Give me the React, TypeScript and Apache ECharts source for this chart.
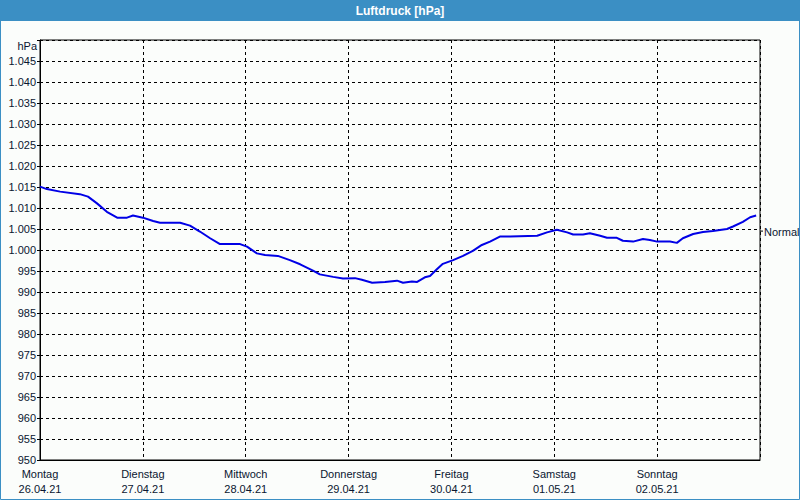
import React, { useEffect, useRef } from "react";
import * as echarts from "echarts";

const dayNames = ["Montag", "Dienstag", "Mittwoch", "Donnerstag", "Freitag", "Samstag", "Sonntag"];
const dayDates = ["26.04.21", "27.04.21", "28.04.21", "29.04.21", "30.04.21", "01.05.21", "02.05.21"];

// hours since Monday 00:00
const hours = [
  0, 1.6, 4.7, 9.3, 11.2, 13.3, 15.6, 18.0, 20.3, 21.7, 24.0, 26.4, 28.0, 32.7, 35.0, 37.3, 39.7,
  42.0, 46.7, 48.3, 50.6, 52.5, 55.5, 58.3, 60.7, 63.7, 65.3, 68.4, 70.7, 73.5, 75.1, 77.5, 80.5,
  83.3, 84.7, 86.8, 88.0, 89.8, 91.0, 92.6, 94.0, 96.4, 98.7, 101.0, 103.1, 105.0, 107.3, 109.7,
  116.0, 118.3, 120.6, 123.0, 124.4, 126.7, 128.3, 130.7, 132.3, 134.6, 136.0, 138.4, 140.7, 142.3,
  144.0, 147.0, 148.6, 150.0, 152.4, 154.7, 157.0, 160.3, 161.7, 164.0, 165.7, 167.1,
];
const pressure = [
  1015.1, 1014.5, 1013.9, 1013.3, 1012.7, 1011.1, 1009.1, 1007.7, 1007.7, 1008.2, 1007.7, 1006.9,
  1006.5, 1006.5, 1005.8, 1004.4, 1002.8, 1001.4, 1001.4, 1000.8, 999.2, 998.8, 998.6, 997.6, 996.6,
  995.1, 994.2, 993.6, 993.2, 993.3, 992.9, 992.2, 992.4, 992.7, 992.2, 992.5, 992.4, 993.5, 993.8,
  995.4, 996.7, 997.6, 998.6, 999.8, 1001.2, 1002.0, 1003.2, 1003.2, 1003.4, 1004.2, 1004.8, 1004.2,
  1003.7, 1003.7, 1004.0, 1003.4, 1002.9, 1002.9, 1002.2, 1002.0, 1002.6, 1002.4, 1002.0, 1002.0,
  1001.7, 1002.8, 1003.8, 1004.3, 1004.5, 1005.0, 1005.6, 1006.7, 1007.8, 1008.2,
];
const normalPressure = 1004.5;
const normalLabel = "Normal";
const unitLabel = "hPa";
const titleText = "Luftdruck [hPa]";
const yMin = 950;
const yMax = 1050;
const yStep = 5;
const hoursPerDay = 24;

const fmtY = (v: number) => {
  if (v >= yMax) return "";
  if (v >= 1000) return `${Math.floor(v / 1000)}.${String(v % 1000).padStart(3, "0")}`;
  return String(v);
};

export default function App() {
  const ref = useRef<HTMLDivElement>(null);
  useEffect(() => {
    document.body.style.margin = "0";
    const chart = echarts.init(ref.current!, null, { renderer: "svg" });
    const font = "'Liberation Sans', Arial, sans-serif";
    const txt = "#0a1630";
    chart.setOption({
      animation: false,
      backgroundColor: "#fbfdfb",
      grid: {
        left: 40,
        right: 40,
        top: 40,
        bottom: 40,
        show: true,
        borderColor: "#000",
        borderWidth: 1,
        backgroundColor: "transparent",
      },
      xAxis: {
        type: "value",
        min: 0,
        max: dayNames.length * hoursPerDay,
        interval: hoursPerDay,
        axisLine: { show: true, lineStyle: { color: "#000", width: 1 } },
        axisTick: { show: false },
        axisLabel: {
          margin: 6,
          fontFamily: font,
          fontSize: 11,
          color: txt,
          lineHeight: 15,
          formatter: (v: number) => {
            const i = Math.round(v / hoursPerDay);
            if (i >= dayNames.length) return "";
            return `${dayNames[i]}\n${dayDates[i]}`;
          },
        },
        splitLine: { show: true, lineStyle: { color: "#000", type: [3, 3], width: 1 } },
      },
      yAxis: {
        type: "value",
        min: yMin,
        max: yMax,
        interval: yStep,
        axisLine: { show: true, lineStyle: { color: "#000", width: 1 } },
        axisTick: { show: true, length: 3, lineStyle: { color: "#000" } },
        axisLabel: {
          margin: 4,
          fontFamily: font,
          fontSize: 11,
          color: txt,
          formatter: fmtY,
        },
        splitLine: { show: true, lineStyle: { color: "#000", type: [3, 3], width: 1 } },
      },
      series: [
        {
          type: "line",
          data: hours.map((h, i) => [h, pressure[i]]),
          showSymbol: false,
          symbol: "none",
          lineStyle: { color: "#0000e6", width: 2 },
          z: 5,
        },
      ],
    });
    const ny = chart.convertToPixel({ yAxisIndex: 0 }, normalPressure) as number;
    const rightX = chart.convertToPixel({ xAxisIndex: 0 }, dayNames.length * hoursPerDay) as number;
    chart.setOption({
      graphic: [
        {
          type: "rect",
          shape: { x: 0, y: 0, width: 800, height: 21 },
          style: { fill: "#3b8fc4" },
          silent: true,
        },
        {
          type: "rect",
          shape: { x: 0.5, y: 0.5, width: 799, height: 499 },
          style: { fill: "none", stroke: "#3b8fc4", lineWidth: 1 },
          silent: true,
        },
        {
          type: "text",
          x: 400,
          y: 11,
          style: {
            text: titleText,
            fill: "#ffffff",
            font: `bold 12px ${font}`,
            textAlign: "center",
            textVerticalAlign: "middle",
          },
        },
        {
          type: "text",
          x: 37,
          y: 46,
          style: {
            text: unitLabel,
            fill: txt,
            font: `11px ${font}`,
            textAlign: "right",
            textVerticalAlign: "middle",
          },
        },
        {
          type: "line",
          shape: { x1: rightX, y1: ny, x2: rightX + 3, y2: ny },
          style: { stroke: "#000", lineWidth: 1 },
        },
        {
          type: "text",
          x: rightX + 4,
          y: ny + 1,
          style: {
            text: normalLabel,
            fill: txt,
            font: `11px ${font}`,
            textAlign: "left",
            textVerticalAlign: "middle",
          },
        },
      ],
    });
    return () => chart.dispose();
  }, []);
  return <div ref={ref} style={{ width: 800, height: 500 }} />;
}
